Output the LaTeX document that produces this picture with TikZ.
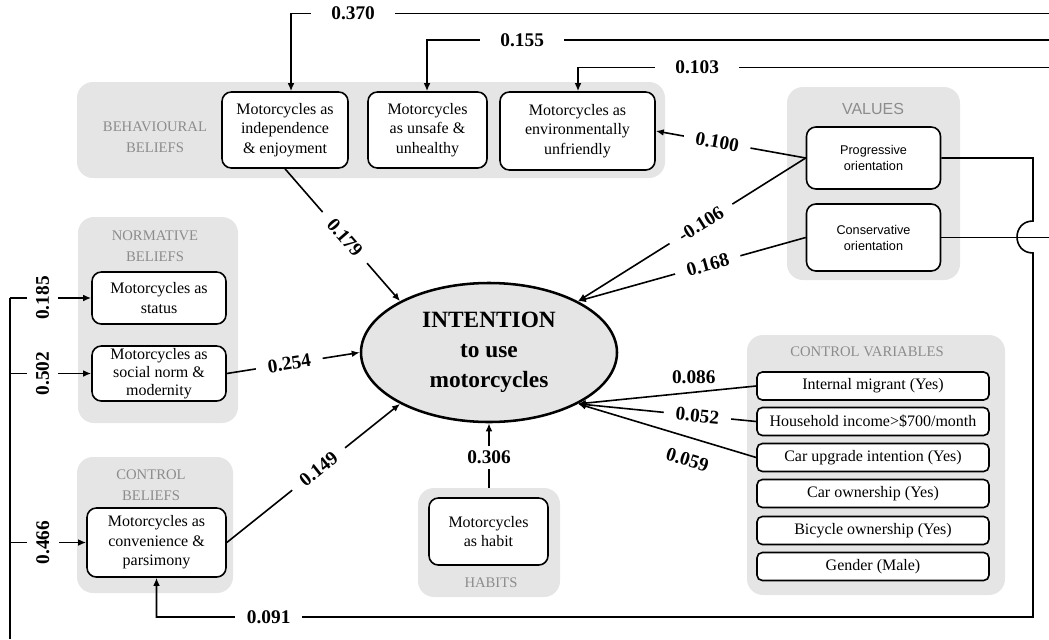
\documentclass[tikz,border=0pt]{standalone}
\usepackage{fontspec}
\setmainfont{Liberation Serif}
\newfontfamily\valfont{Liberation Sans}
\usetikzlibrary{arrows.meta,shapes.geometric}
\tikzset{
  band/.style={fill=black!10, rounded corners=12pt, inner sep=0pt},
  bandtitle/.style={text=black!45, font=\fontsize{11}{15.5}\selectfont, align=center},
  box/.style={draw, fill=white, line width=1.2pt, rounded corners=7pt, align=center,
    font=\fontsize{12}{14.5}\selectfont, inner sep=1pt},
  cvbox/.style={box, rounded corners=4pt, minimum width=174pt, minimum height=21pt},
  valbox/.style={box, font=\valfont\fontsize{9.5}{12}\selectfont, minimum width=100.5pt},
  coef/.style={font=\bfseries\fontsize{14.5}{16}\selectfont, fill=white, inner xsep=9pt, inner ysep=4pt},
  coefn/.style={font=\bfseries\fontsize{14.5}{16}\selectfont, inner sep=1pt},
  wire/.style={line width=1.2pt},
  arr/.style={wire, -{Latex[length=6pt,width=5pt]}}
}
\begin{document}
\begin{tikzpicture}[x=0.75pt, y=-0.75pt]
  \useasboundingbox (0,0) rectangle (1049,639);
  \node[band, minimum width=441pt, minimum height=72pt] (bbb) at (371,130) {};
  \node[band, minimum width=120pt, minimum height=154.5pt] (nbb) at (158,320) {};
  \node[band, minimum width=117pt, minimum height=102pt] (cbb) at (155,525) {};
  \node[band, minimum width=106.5pt, minimum height=81.75pt] (hbb) at (489,542.5) {};
  \node[band, minimum width=129.75pt, minimum height=144.75pt] (vbb) at (873.5,183.5) {};
  \node[band, minimum width=193.5pt, minimum height=195pt] (cvb) at (876,465) {};

  \node[bandtitle] (tbb) at (155,137.5) {BEHAVIOURAL\\BELIEFS};
  \node[bandtitle] (tnb) at (155,246) {NORMATIVE\\BELIEFS};
  \node[bandtitle] (tcb) at (151,485) {CONTROL\\BELIEFS};
  \node[bandtitle] (thb) at (491,583) {HABITS};
  \node[bandtitle, font=\valfont\fontsize{12}{14}\selectfont] (tvb) at (873,109) {VALUES};
  \node[bandtitle] (tcv) at (867,352) {CONTROL VARIABLES};

  \node[box, minimum width=94.5pt, minimum height=57pt] (b1) at (285,130) {Motorcycles as\\independence\\\& enjoyment};
  \node[box, minimum width=89.25pt, minimum height=57pt] (b2) at (427.5,130) {Motorcycles\\as unsafe \&\\unhealthy};
  \node[box, minimum width=116.25pt, minimum height=58.5pt] (b3) at (577.5,131) {Motorcycles as\\environmentally\\unfriendly};
  \node[box, minimum width=100.5pt, minimum height=39pt] (n1) at (159,298) {Motorcycles as\\status};
  \node[box, minimum width=100.5pt, minimum height=41.25pt, font=\fontsize{12}{13.5}\selectfont] (n2) at (159,373.5) {Motorcycles as\\social norm \&\\modernity};
  \node[box, minimum width=104.25pt, minimum height=51.75pt] (c1) at (156.5,542.5) {Motorcycles as\\convenience \&\\parsimony};
  \node[box, minimum width=89.25pt, minimum height=50.25pt] (h1) at (488.5,531.5) {Motorcycles\\as habit};
  \node[valbox, minimum height=46.5pt] (v1) at (873.5,158) {Progressive\\orientation};
  \node[valbox, minimum height=50.25pt] (v2) at (873.5,237.5) {Conservative\\orientation};
  \node[cvbox] (cv1) at (873,386) {Internal migrant (Yes)};
  \node[cvbox] (cv2) at (873,421.5) {Household income>\$700/month};
  \node[cvbox] (cv3) at (873,457.5) {Car upgrade intention (Yes)};
  \node[cvbox] (cv4) at (873,493.5) {Car ownership (Yes)};
  \node[cvbox] (cv5) at (873,530.5) {Bicycle ownership (Yes)};
  \node[cvbox] (cv6) at (873,566.5) {Gender (Male)};

  \node[draw, ellipse, fill=black!10, line width=1.9pt, minimum width=192pt, minimum height=104.25pt,
    align=center, font=\bfseries\fontsize{17.5}{22.5}\selectfont, inner sep=0pt] (int) at (489,352.5)
    {INTENTION\\to use\\motorcycles};

  \coordinate (r1) at (1049,13.5);
  \coordinate (k1) at (291,13.5);
  \coordinate (r2) at (1049,40);
  \coordinate (k2) at (427,40);
  \coordinate (r3) at (1049,67.5);
  \coordinate (k3) at (578,67.5);
  \coordinate (r4) at (1049,237.5);
  \coordinate (lx) at (10,639);
  \coordinate (rx) at (1033,617);
  \coordinate (hopa) at (1033,221);
  \coordinate (hopb) at (1033,253);

  \draw[arr] (r1) -- node[coef, pos=0.918, inner xsep=15pt] (l370) {0.370} (k1) -- (k1 |- b1.north);
  \draw[arr] (r2) -- node[coef, pos=0.847, inner xsep=15pt] (l155) {0.155} (k2) -- (k2 |- b2.north);
  \draw[arr] (r3) -- node[coef, pos=0.747, inner xsep=15pt] (l103) {0.103} (k3) -- (k3 |- b3.north);

  \draw[wire] (n1.west -| lx) -- (lx);
  \draw[arr] (n1.west -| lx) -- node[coef, rotate=90, pos=0.4, inner ysep=7pt] (l185) {0.185} (n1.west);
  \draw[arr] (n2.west -| lx) -- node[coef, rotate=90, pos=0.4, inner ysep=7pt] (l502) {0.502} (n2.west);
  \draw[arr] (c1.west -| lx) -- node[coef, rotate=90, pos=0.43, inner ysep=7pt] (l466) {0.466} (c1.west);

  \draw[arr] (b1.south) -- node[coef, sloped, pos=0.52] (l179) {0.179} (int.150);
  \draw[arr] (n2.east) -- node[coef, sloped, pos=0.47] (l254) {0.254} (int.west);
  \draw[arr] (c1.east) -- node[coef, sloped, pos=0.53] (l149) {0.149} (int.210);
  \draw[arr] (hbb.north) -- node[coef, pos=0.47] (l306) {0.306} (int.south);

  \draw[arr] (v1.west) -- node[coef, sloped, pos=0.59] (l100) {0.100} (b3.east);
  \draw[arr] (v1.west) -- node[coef, sloped, pos=0.46] (l106) {-0.106} (int.30);
  \draw[arr] (v2.west) -- node[coef, sloped, pos=0.43] (l168) {0.168} (int.30);

  \draw[arr] (cv1.west) -- node[coefn, pos=0.35, above=5pt] (l086) {0.086} (int.330);
  \draw[arr] (cv2.west) -- node[coef, sloped, pos=0.33] (l052) {0.052} (int.330);
  \draw[arr] (cv3.west) -- node[coefn, sloped, pos=0.35, below=10pt] (l059) {0.059} (int.330);

  \draw[arr] (v1.east) -- (v1.east -| rx) -- (hopa) .. controls (1011.7,221) and (1011.7,253) .. (hopb)
    -- (rx) -- node[coef, pos=0.872] (l091) {0.091} (c1.south |- rx) -- (c1.south);
  \draw[wire] (v2.east) -- (r4);
\end{tikzpicture}
\end{document}
